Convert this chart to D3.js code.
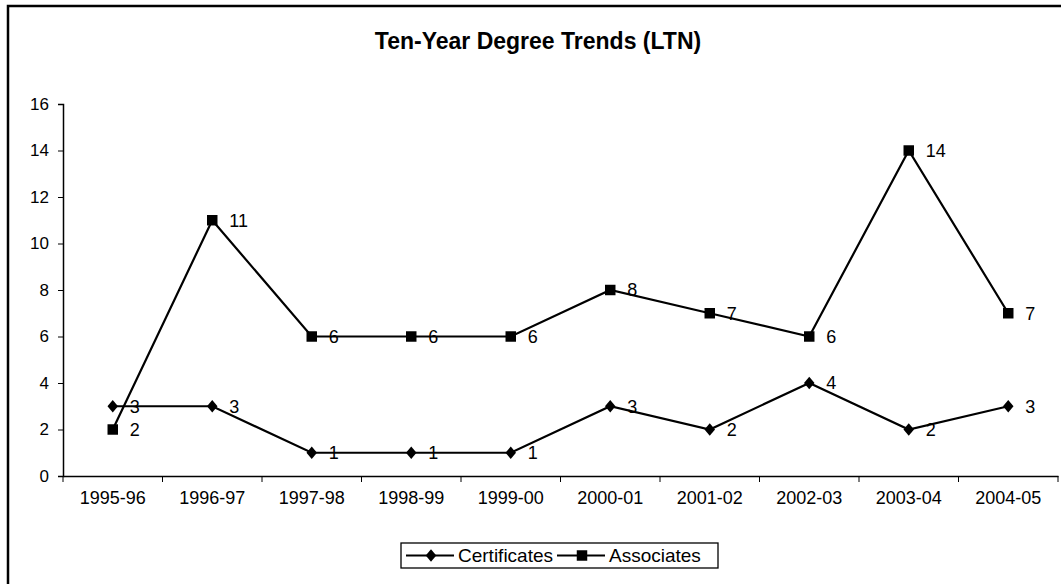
<!DOCTYPE html>
<html>
<head>
<meta charset="utf-8">
<script src="https://cdn.jsdelivr.net/npm/d3@7"></script>
<style>
  body { margin: 0; background: #fff; }
  text { font-family: "Liberation Sans", Arial, sans-serif; fill: #000; }
</style>
</head>
<body>
<svg id="chart" width="1061" height="584"></svg>
<script>
// data
const years = ["1995-96", "1996-97", "1997-98", "1998-99", "1999-00",
               "2000-01", "2001-02", "2002-03", "2003-04", "2004-05"];
const certificates = [3, 3, 1, 1, 1, 3, 2, 4, 2, 3];
const associates = [2, 11, 6, 6, 6, 8, 7, 6, 14, 7];
const yTicks = [0, 2, 4, 6, 8, 10, 12, 14, 16];

const svg = d3.select("#chart");
const margin = {top: 104, right: 3, bottom: 108, left: 63};
const width = 1061 - margin.left - margin.right;
const height = 584 - margin.top - margin.bottom;

// diamond a bit squarer than d3's own
const diamond = {
  draw(ctx, size) {
    const h = Math.sqrt(size) * 0.62, w = h * 0.85;
    ctx.moveTo(0, -h); ctx.lineTo(w, 0); ctx.lineTo(0, h); ctx.lineTo(-w, 0); ctx.closePath();
  }
};

// outer chart border (left + top visible, rest runs off the page)
svg.append("rect")
  .attr("x", 8).attr("y", 6)
  .attr("width", 1070).attr("height", 600)
  .attr("fill", "none").attr("stroke", "#000").attr("stroke-width", 2.5);

svg.append("text")
  .attr("x", 538).attr("y", 49)
  .attr("text-anchor", "middle")
  .style("font-size", "23px").style("font-weight", "bold")
  .text("Ten-Year Degree Trends (LTN)");

const g = svg.append("g").attr("transform", `translate(${margin.left},${margin.top})`);

const x = d3.scaleBand().domain(years).range([0, width]);
const y = d3.scaleLinear().domain([0, 16]).range([height, 0]);

// axes
const yAxis = g.append("g")
  .call(d3.axisLeft(y).tickValues(yTicks).tickSize(5).tickPadding(9));
yAxis.selectAll("text").style("font-size", "17px");

const xAxis = g.append("g")
  .attr("transform", `translate(0,${height})`)
  .call(d3.axisBottom(x).tickSize(0).tickPadding(15));
xAxis.selectAll("text").style("font-size", "18px");
// tick marks at category boundaries
xAxis.selectAll(".bound")
  .data(d3.range(years.length + 1))
  .enter().append("line")
    .attr("class", "bound")
    .attr("x1", i => i * x.step()).attr("x2", i => i * x.step())
    .attr("y1", 0).attr("y2", 6)
    .attr("stroke", "#000");
g.selectAll(".domain").attr("stroke", "#000").attr("stroke-width", 1.5);

const cx = d => x(d) + x.bandwidth() / 2;
const line = d3.line().x((v, i) => cx(years[i])).y(v => y(v));

const series = [
  {name: "Certificates", values: certificates, symbol: diamond, size: 100},
  {name: "Associates", values: associates, symbol: d3.symbolSquare, size: 110}
];

series.forEach(s => {
  g.append("path")
    .datum(s.values)
    .attr("d", line)
    .attr("fill", "none").attr("stroke", "#000").attr("stroke-width", 2.2);

  g.selectAll(null)
    .data(s.values)
    .enter().append("path")
      .attr("transform", (v, i) => `translate(${cx(years[i])},${y(v)})`)
      .attr("d", d3.symbol().type(s.symbol).size(s.size))
      .attr("fill", "#000");

  g.selectAll(null)
    .data(s.values)
    .enter().append("text")
      .attr("x", (v, i) => cx(years[i]) + 17)
      .attr("y", v => y(v))
      .attr("dy", "0.36em")
      .style("font-size", "18px")
      .text(v => v);
});

// legend
const leg = svg.append("g").attr("transform", "translate(401,543)");
leg.append("rect")
  .attr("width", 317).attr("height", 25)
  .attr("fill", "#fff").attr("stroke", "#000").attr("stroke-width", 1.3);
const items = [
  {s: series[0], x0: 5, tx: 57},
  {s: series[1], x0: 156, tx: 208}
];
items.forEach(it => {
  leg.append("line")
    .attr("x1", it.x0).attr("x2", it.x0 + 48)
    .attr("y1", 12.5).attr("y2", 12.5)
    .attr("stroke", "#000").attr("stroke-width", 2.2);
  leg.append("path")
    .attr("transform", `translate(${it.x0 + 25},12.5)`)
    .attr("d", d3.symbol().type(it.s.symbol).size(it.s.size))
    .attr("fill", "#000");
  leg.append("text")
    .attr("x", it.tx).attr("y", 12.5).attr("dy", "0.36em")
    .style("font-size", "19px")
    .text(it.s.name);
});
</script>
</body>
</html>
